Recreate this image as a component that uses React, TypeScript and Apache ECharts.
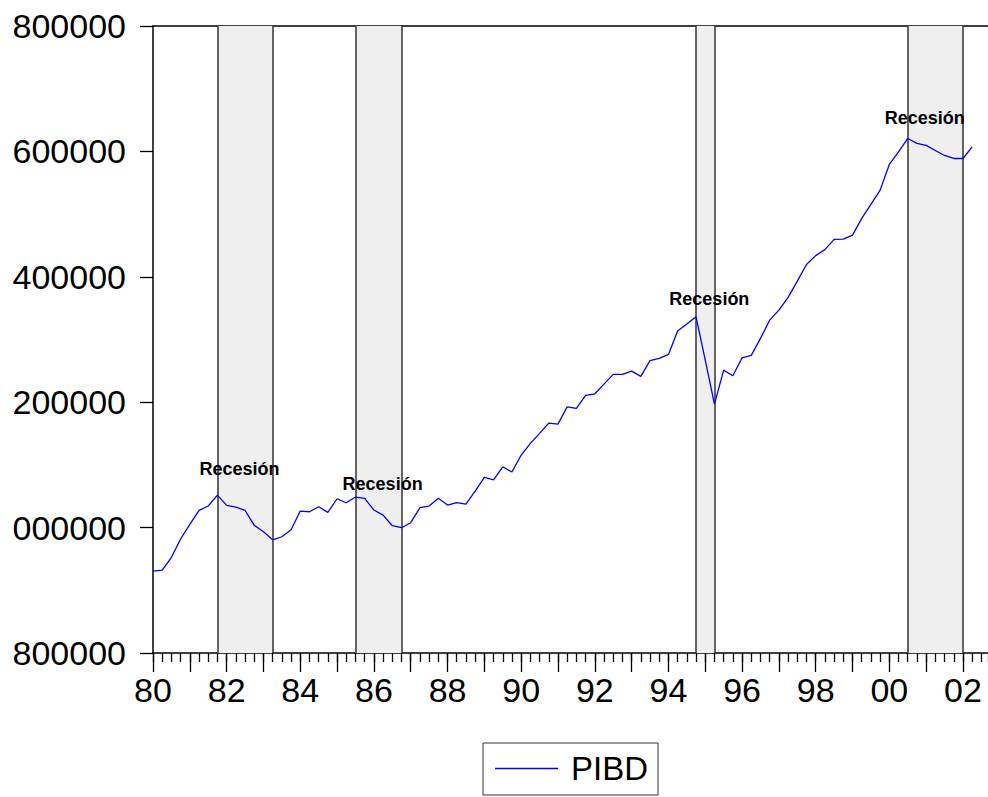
import React, { useEffect, useRef } from "react";
import * as echarts from "echarts";

// Quarterly PIBD, 1980Q1 .. 2002Q2 (index 0 = 1980Q1)
const pibd: number[] = [
  930700, 932300, 952600, 981800, 1005200, 1027500, 1034400, 1051900,
  1035500, 1032800, 1027500, 1003600, 993400, 980600, 985400, 996600,
  1026400, 1025300, 1033300, 1024300, 1046000, 1039600, 1048700, 1046700,
  1028000, 1020000, 1003000, 999800, 1007800, 1031700, 1034400, 1046700,
  1036000, 1040000, 1037600, 1058300, 1080100, 1076300, 1097000, 1088600,
  1115700, 1134300, 1150300, 1166700, 1165100, 1192700, 1190100, 1210900,
  1213400, 1228900, 1244400, 1244400, 1249600, 1241200, 1266400, 1269900,
  1276200, 1313400, 1324600, 1336200, 1267200, 1197000, 1251200, 1242100,
  1270800, 1274700, 1301800, 1330900, 1346900, 1367100, 1393100, 1419700,
  1433800, 1443400, 1459600, 1460100, 1466500, 1493100, 1515400, 1538200,
  1579200, 1599300, 1620600, 1612700, 1609500, 1601500, 1593500, 1588700,
  1588700, 1607300,
];

// Recession periods (quarter indices: start, end)
const recessionStart: number[] = [7, 22, 59, 82];
const recessionEnd: number[] = [13, 27, 61, 88];

// Annotation anchors (quarter index, value)
const annotIdx: number[] = [9.45, 25.0, 60.5, 83.9];
const annotVal: number[] = [1092000, 1069000, 1363000, 1653000];
const annotText = "Recesión";

const seriesName = "PIBD";
const firstYear = 1980;

const yLabel = (v: number) =>
  String(Math.round(v) % 1000000).padStart(6, "0");

export default function App() {
  const ref = useRef<HTMLDivElement>(null);
  useEffect(() => {
    if (!ref.current) return;
    const chart = echarts.init(ref.current, undefined, { renderer: "svg" });
    const font = "Liberation Sans, Arial, sans-serif";
    const lineData = pibd.map((v, i) => [i, v]);
    const xMin = 0;
    const xMax = 90.72;
    const axisLineStyle = { color: "#000", width: 1.5 };
    chart.setOption({
      animation: false,
      backgroundColor: "#ffffff",
      textStyle: { fontFamily: font },
      grid: { left: 153, top: 26, bottom: 144, right: 0, containLabel: false },
      legend: {
        data: [{ name: seriesName, icon: "rect" }],
        left: 483,
        top: 743,
        orient: "horizontal",
        borderColor: "#333",
        borderWidth: 1,
        borderRadius: 0,
        padding: [9, 10, 10, 12],
        itemWidth: 63,
        itemHeight: 1.5,
        textStyle: { fontSize: 33, color: "#000", fontFamily: font, padding: [0, 0, 0, 8] },
        selectedMode: false,
      },
      xAxis: [
        {
          type: "value",
          position: "bottom",
          min: xMin,
          max: xMax,
          interval: 4,
          axisLine: { show: true, onZero: false, lineStyle: axisLineStyle },
          axisTick: { show: true, length: 19, inside: false, lineStyle: { color: "#000", width: 1.3 } },
          splitLine: { show: false },
          axisLabel: {
            fontSize: 34,
            color: "#000",
            fontFamily: font,
            margin: 20,
            showMaxLabel: false,
            formatter: (v: number) => {
              const yr = firstYear + v / 4;
              if (Math.abs(yr - Math.round(yr)) > 1e-6) return "";
              if (Math.round(yr) % 2 !== 0) return "";
              return String(Math.round(yr) % 100).padStart(2, "0");
            },
          },
        },
        {
          type: "value",
          position: "bottom",
          offset: 0,
          min: xMin,
          max: xMax,
          interval: 1,
          axisLine: { show: false, onZero: false },
          axisTick: { show: true, length: 9, lineStyle: { color: "#000", width: 1.3 } },
          axisLabel: { show: false },
          splitLine: { show: false },
        },
        {
          type: "value",
          position: "top",
          min: xMin,
          max: xMax,
          axisLine: { show: true, onZero: false, lineStyle: axisLineStyle },
          axisTick: { show: false },
          axisLabel: { show: false },
          splitLine: { show: false },
        },
      ],
      yAxis: {
        type: "value",
        min: 800000,
        max: 1800000,
        interval: 200000,
        axisLine: { show: true, onZero: false, lineStyle: axisLineStyle },
        axisTick: { show: true, length: 13, lineStyle: { color: "#000", width: 1.3 } },
        splitLine: { show: false },
        axisLabel: {
          fontSize: 34,
          color: "#000",
          fontFamily: font,
          margin: 27,
          formatter: yLabel,
        },
      },
      series: [
        {
          name: seriesName,
          type: "line",
          xAxisIndex: 0,
          data: lineData,
          symbol: "none",
          showSymbol: false,
          lineStyle: { color: "#0000ff", width: 1.3 },
          itemStyle: { color: "#0000ff" },
          z: 5,
          markArea: {
            silent: true,
            itemStyle: { color: "#efefef" },
            data: recessionStart.map((s, i) => [{ xAxis: s }, { xAxis: recessionEnd[i] }]),
          },
          markLine: {
            silent: true,
            symbol: "none",
            label: { show: false },
            lineStyle: { color: "#333", width: 1.5, type: "solid" },
            data: [...recessionStart, ...recessionEnd].map((x) => ({ xAxis: x })),
          },
        },
        {
          name: "annotations",
          type: "scatter",
          xAxisIndex: 0,
          data: annotIdx.map((x, i) => [x, annotVal[i]]),
          symbol: "circle",
          symbolSize: 1,
          itemStyle: { color: "#000", opacity: 0 },
          z: 10,
          label: {
            show: true,
            position: [0, 0],
            align: "center",
            verticalAlign: "middle",
            formatter: () => annotText,
            color: "#000",
            opacity: 1,
            fontWeight: "bold",
            fontSize: 18,
            fontFamily: font,
          },
        },
      ],
    });
    return () => chart.dispose();
  }, []);
  return (
    <div
      ref={ref}
      style={{ position: "absolute", left: 0, top: 0, width: 988, height: 797 }}
    />
  );
}
